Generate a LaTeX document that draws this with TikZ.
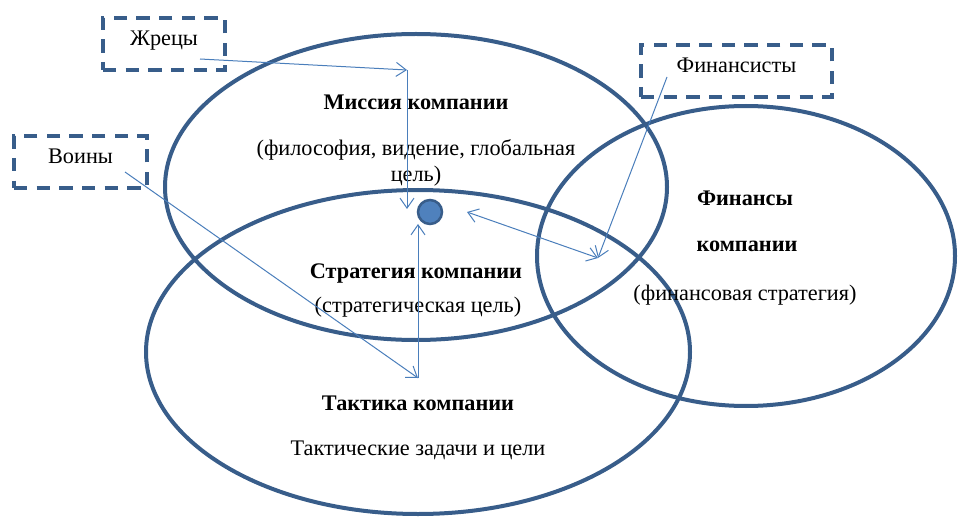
\documentclass[tikz,border=0pt]{standalone}
\usepackage{fontspec}
\setmainfont{Liberation Serif}
\usepackage{tikz}
\usetikzlibrary{arrows.meta}
\definecolor{rim}{HTML}{385D8A}
\definecolor{wireblue}{HTML}{4A7EBB}
\definecolor{dotblue}{HTML}{4F81BD}

\begin{document}
\begin{tikzpicture}[>={Straight Barb[length=7.5pt, width=10.5pt]}, x=0.75pt, y=-0.75pt,
        font=\fontsize{16.7}{20}\selectfont,
        ring/.style={draw=rim, line width=3pt},
        role/.style={draw=rim, line width=3pt, dash pattern=on 10pt off 7pt, minimum height=39pt, inner sep=0pt, text depth=9pt},
        wire/.style={draw=wireblue, line width=0.75pt}]
        \useasboundingbox (0, 0) rectangle (964, 524);
        % ellipses
        \path[ring] (416, 187) ellipse [x radius=251, y radius=153];
        \path[ring] (418, 352) ellipse [x radius=272, y radius=162];
        \path[ring] (746, 256) ellipse [x radius=209, y radius=150];
        % texts
        \node (mission) at (416, 102) {\bfseries Миссия компании};
        \node[align=center] (missionnote) at (416, 163) {(философия, видение, глобальная\\цель)};
        \node (strategy) at (416, 273) {\bfseries Стратегия компании};
        \node (strategynote) at (418, 307) {(стратегическая цель)};
        \node (tactics) at (418, 403) {\bfseries Тактика компании};
        \node (tacticsnote) at (418, 450) {Тактические задачи и цели};
        \node (finance) at (745, 198) {\bfseries Финансы};
        \node (financetoo) at (747, 246) {\bfseries компании};
        \node (financenote) at (745, 295) {(финансовая стратегия)};
        % roles
        \node[role, minimum width=91.5pt] (priests) at (164, 44) {Жрецы};
        \node[role, minimum width=99.75pt] (warriors) at (80.5, 162) {Воины};
        \node[role, minimum width=143.25pt] (financiers) at (736.5, 71) {Финансисты};
        \node[circle, fill=dotblue, draw=rim, line width=1.9pt, minimum size=18pt, inner sep=0pt] (goal) at (430, 212) {};
        % arrows
        \coordinate (priestsout) at (200, 59);
        \coordinate (warriorsout) at (125, 172);
        \coordinate (financiersout) at (667, 77);
        \coordinate (missionbend) at (407, 70);
        \coordinate (tacticsbend) at (418, 378);
        \coordinate (financebend) at (598, 258);
        \coordinate (goalleft) at (407, 209);
        \coordinate (goalbelow) at (418, 224);
        \coordinate (goalright) at (467, 212);
        \path[wire, ->] (priestsout) -- (missionbend);
        \path[wire, ->] (missionbend) -- (goalleft);
        \path[wire, ->] (warriorsout) -- (tacticsbend);
        \path[wire, ->] (tacticsbend) -- (goalbelow);
        \path[wire, ->] (financiersout) -- (financebend);
        \path[wire, <->] (goalright) -- (financebend);
    \end{tikzpicture}
\end{document}
